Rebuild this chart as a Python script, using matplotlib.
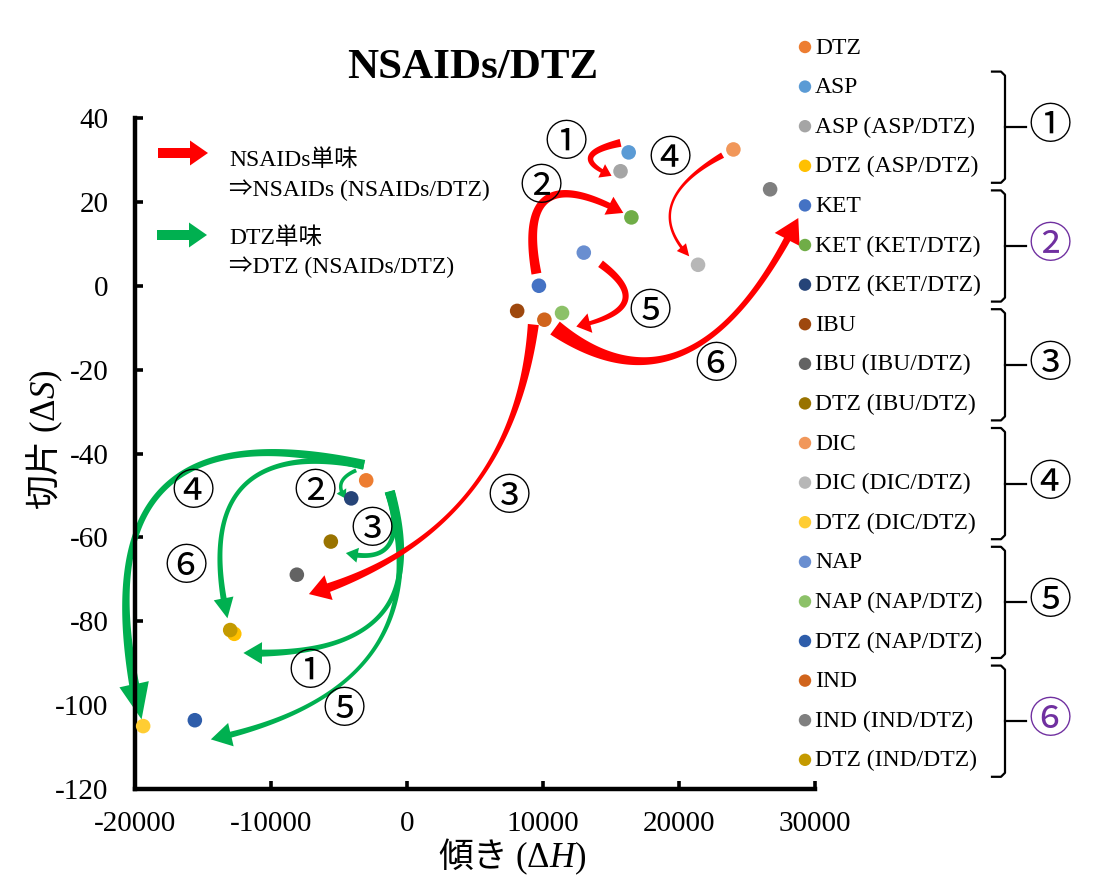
import numpy as np
import matplotlib
matplotlib.use('Agg')
import matplotlib.pyplot as plt
from matplotlib.patches import Polygon, FancyArrow
from matplotlib.lines import Line2D

plt.rcParams['font.family'] = ['Liberation Serif', 'Noto Sans CJK JP', 'DejaVu Sans']
plt.rcParams['axes.unicode_minus'] = False
plt.rcParams['mathtext.fontset'] = 'custom'
plt.rcParams['mathtext.rm'] = 'Liberation Serif'
plt.rcParams['mathtext.it'] = 'Liberation Serif:italic'

# series (slope dH, intercept dS)
names = ['DTZ', 'ASP', 'ASP (ASP/DTZ)', 'DTZ (ASP/DTZ)',
         'KET', 'KET (KET/DTZ)', 'DTZ (KET/DTZ)',
         'IBU', 'IBU (IBU/DTZ)', 'DTZ (IBU/DTZ)',
         'DIC', 'DIC (DIC/DTZ)', 'DTZ (DIC/DTZ)',
         'NAP', 'NAP (NAP/DTZ)', 'DTZ (NAP/DTZ)',
         'IND', 'IND (IND/DTZ)', 'DTZ (IND/DTZ)']
dH = [-3000, 16300, 15700, -12700,
      9700, 16500, -4100,
      8100, -8100, -5600,
      24000, 21400, -19400,
      13000, 11400, -15600,
      10100, 26700, -13000]
dS = [-46.4, 31.8, 27.3, -83.0,
      0.0, 16.3, -50.7,
      -6.0, -68.9, -61.0,
      32.5, 5.0, -105.0,
      7.9, -6.5, -103.6,
      -8.1, 23.0, -82.1]
colors = ['#ED7D31', '#5B9BD5', '#A5A5A5', '#FFC000',
          '#4472C4', '#70AD47', '#264478',
          '#9E480E', '#636363', '#997300',
          '#F1975A', '#B7B7B7', '#FFCD33',
          '#698ED0', '#8CC168', '#2E5DAA',
          '#D0641C', '#7F7F7F', '#C49A00']

group_marks = ['①', '②', '③', '④', '⑤', '⑥']
group_mark_colors = ['black', '#7030A0', 'black', 'black', 'black', '#7030A0']
group_rows = [(1, 3), (4, 6), (7, 9), (10, 12), (13, 15), (16, 18)]

RED = '#FF0000'
GREEN = '#00B050'

# arrows: from, to, bend, skew, tail w, mid w, end w, head w, head len,
# shrink tail, shrink tip, tail nudge, tip nudge (px)
red_arrows = [
    ('ASP', 'ASP (ASP/DTZ)', -1.49, 0.32, 8, 6, 4, 15, 11, 2, 1, (-6, -10), (-8, 5)),
    ('KET', 'KET (KET/DTZ)', 1.13, 0.0, 10, 8, 6, 20, 16, 12, 9, (0, 0), (0, 0)),
    ('IBU', 'IBU (IBU/DTZ)', 0.34, 0.0, 11, 2, 9, 26, 20, 8, 2, (17, 5), (10, 20)),
    ('DIC', 'DIC (DIC/DTZ)', -0.71, 0.18, 6, 2, 3, 12, 12, 12, 12, (0, 0), (0, 0)),
    ('NAP', 'NAP (NAP/DTZ)', 1.26, 0.06, 8, 6, 4, 20, 14, 20, 2, (0, 0), (12, 14)),
    ('IND', 'IND (IND/DTZ)', -0.60, -0.177, 16, 4, 7, 28, 24, 13, 4, (0, 0), (30, 25)),
]
green_arrows = [
    ('DTZ', 'DTZ (ASP/DTZ)', 0.715, -0.093, 10, 3, 7, 22, 18, 5, 4, (22, 6), (5, 19)),
    ('DTZ', 'DTZ (KET/DTZ)', -0.68, 0.07, 4, 3.5, 3.5, 11, 9, 0, 2, (-10, -10), (-4, 2)),
    ('DTZ', 'DTZ (IBU/DTZ)', 0.83, 0.207, 10, 4, 5, 15, 12, 5, 2, (22, 6), (13, 11)),
    ('DTZ', 'DTZ (DIC/DTZ)', -0.818, -0.074, 10, 4.5, 10, 30, 35, 6, 6, (4, -14), (0, 0)),
    ('DTZ', 'DTZ (NAP/DTZ)', 0.533, -0.077, 10, 2.5, 6, 24, 20, 5, 4, (22, 6), (12, 20)),
    ('DTZ', 'DTZ (IND/DTZ)', -0.776, -0.054, 8, 3.5, 6, 20, 20, 6, 12, (4, -14), (0, 0)),
]
# circled-number label positions (dH, dS)
red_label_x = [11720, 9820, 7470, 19340, 17880, 22710]
red_label_y = [33.7, 23.4, -50.5, 30.1, -6.5, -19.1]
green_label_x = [-7110, -6740, -2560, -15750, -4620, -16260]
green_label_y = [-92.3, -49.3, -58.4, -49.3, -101.4, -67.2]

W, H = 1117, 877
fig = plt.figure(figsize=(W / 100, H / 100), dpi=100)
ax = fig.add_axes([135 / W, 88 / H, 680 / W, 671 / H])
ax.set_xlim(-20000, 30000)
ax.set_ylim(-120, 40)
ax.set_xticks(range(-20000, 30001, 10000))
ax.set_yticks(range(-120, 41, 20))
for s in ['top', 'right']:
    ax.spines[s].set_visible(False)
for s in ['left', 'bottom']:
    ax.spines[s].set_linewidth(3.2)
ax.tick_params(direction='in', length=6, width=2.6, labelsize=21)
ax.tick_params(axis='y', pad=19)
ax.tick_params(axis='x', pad=16)
ax.set_xlabel('傾き $(\\Delta\\mathit{H})$', family='Noto Sans CJK JP', fontsize=25, va='center')
ax.xaxis.set_label_coords(0.554, -0.101)
ax.set_ylabel('切片 $(\\Delta\\mathit{S})$', family='Noto Sans CJK JP', fontsize=25, va='center')
ax.yaxis.set_label_coords(-0.132, 0.52)

for i in range(len(names)):
    ax.scatter(dH[i], dS[i], s=110, color=colors[i], edgecolors='none', zorder=3, clip_on=False)


def curved_arrow(a, color):
    i0, i1 = names.index(a[0]), names.index(a[1])
    bend, skew, w0, wm, w1, hw, hl, sa, sb, n0, n1 = a[2:]
    tr = ax.transData
    p0 = tr.transform((dH[i0], dS[i0])) + np.array([n0[0], -n0[1]])
    p1 = tr.transform((dH[i1], dS[i1])) + np.array([n1[0], -n1[1]])
    d = p1 - p0
    c = (p0 + p1) / 2 + bend * np.array([-d[1], d[0]]) + skew * d
    t = np.linspace(0, 1, 600)[:, None]
    pts = (1 - t) ** 2 * p0 + 2 * t * (1 - t) * c + t ** 2 * p1
    s = np.concatenate([[0], np.cumsum(np.hypot(*np.diff(pts, axis=0).T))])
    keep = (s >= sa) & (s <= s[-1] - sb)
    pts, s = pts[keep], s[keep] - s[keep][0]
    tip = pts[-1]
    body = s <= s[-1] - hl
    bp, bs = pts[body], s[body]
    u = bs / bs[-1]
    w = wm + (w0 - wm) * (1 - u) ** 3 + (w1 - wm) * u ** 3
    tg = np.gradient(bp, axis=0)
    tg /= np.hypot(tg[:, 0], tg[:, 1])[:, None]
    nv = np.stack([-tg[:, 1], tg[:, 0]], axis=1)
    left = bp + nv * w[:, None] / 2
    right = bp - nv * w[:, None] / 2
    base = bp[-1]
    hd = (tip - base) / np.hypot(*(tip - base))
    hn = np.array([-hd[1], hd[0]])
    head = [base + hn * hw / 2, tip, base - hn * hw / 2]
    poly = np.vstack([left, head, right[::-1]])
    ax.add_patch(Polygon(tr.inverted().transform(poly), closed=True, fc=color,
                         ec='none', zorder=2, clip_on=False))


for a in green_arrows:
    curved_arrow(a, GREEN)
for a in red_arrows:
    curved_arrow(a, RED)

circ = ['Noto Sans CJK JP']
for k in range(6):
    ax.text(red_label_x[k], red_label_y[k], group_marks[k], family=circ, fontsize=31,
            ha='center', va='center', zorder=4)
    ax.text(green_label_x[k], green_label_y[k], group_marks[k], family=circ, fontsize=31,
            ha='center', va='center', zorder=4)

# overlay in pixel coordinates for title, key and bracketed legend
ov = fig.add_axes([0, 0, 1, 1])
ov.set_xlim(0, W)
ov.set_ylim(H, 0)
ov.axis('off')

ov.text(473, 68, 'NSAIDs/DTZ', fontsize=31, fontweight='bold', ha='center', va='center')

ov.add_patch(FancyArrow(158, 153, 50, 0, width=10, head_width=25, head_length=18,
                        length_includes_head=True, color=RED, lw=0))
ov.add_patch(FancyArrow(157, 235, 50, 0, width=10, head_width=25, head_length=18,
                        length_includes_head=True, color=GREEN, lw=0))
ov.text(229, 160, 'NSAIDs単味', fontsize=17, va='center')
ov.text(229, 190, '⇒NSAIDs (NSAIDs/DTZ)', fontsize=17, va='center')
ov.text(229, 238, 'DTZ単味', fontsize=17, va='center')
ov.text(229, 267, '⇒DTZ (NSAIDs/DTZ)', fontsize=17, va='center')

row_y0, row_dy = 47, 39.6
for i, nm in enumerate(names):
    y = row_y0 + i * row_dy
    ov.scatter(805, y, s=80, color=colors[i], edgecolors='none')
    ov.text(815, y + 1, nm, fontsize=17, va='center')

for k, (r0, r1) in enumerate(group_rows):
    top = row_y0 + r0 * row_dy - 15
    bot = row_y0 + r1 * row_dy + 17
    mid = (top + bot) / 2
    ov.add_line(Line2D([992, 1001, 1005, 1005, 1001, 992],
                       [top, top, top + 4, bot - 4, bot, bot], color='black', lw=1.6))
    ov.add_line(Line2D([1005, 1026], [mid, mid], color='black', lw=1.6))
    ov.text(1050, mid, group_marks[k], family=circ, fontsize=31, ha='center', va='center',
            color=group_mark_colors[k])

fig.savefig('out.png', dpi=100)
